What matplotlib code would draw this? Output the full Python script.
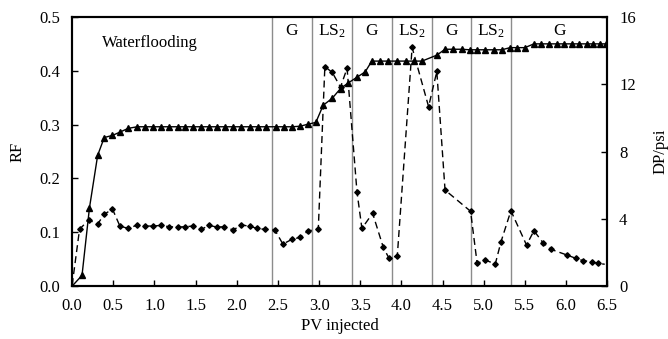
import numpy as np
import matplotlib
matplotlib.use("Agg")
import matplotlib.pyplot as plt

matplotlib.rc('font', family='serif')
matplotlib.rc('font', serif=['Liberation Serif', 'DejaVu Serif'])
matplotlib.rcParams.update({'font.size': 12, 'mathtext.default': 'regular'})

# recovery factor (left axis)
rf_x = [0, 0.12, 0.21, 0.31, 0.39, 0.49, 0.58, 0.68, 0.79, 0.89, 0.98, 1.08,
        1.18, 1.28, 1.37, 1.47, 1.57, 1.66, 1.76, 1.86, 1.96, 2.05, 2.16,
        2.26, 2.36, 2.48, 2.57, 2.67, 2.77, 2.87, 2.96, 3.05, 3.16, 3.26,
        3.35, 3.46, 3.56, 3.64, 3.74, 3.84, 3.95, 4.05, 4.15, 4.25, 4.43,
        4.53, 4.63, 4.73, 4.83, 4.92, 5.02, 5.12, 5.22, 5.32, 5.40, 5.50,
        5.61, 5.70, 5.79, 5.89, 5.98, 6.07, 6.16, 6.25, 6.33, 6.41, 6.49]
rf_y = [0, 0.02, 0.145, 0.243, 0.276, 0.28, 0.286, 0.293, 0.296, 0.296,
        0.296, 0.296, 0.296, 0.296, 0.296, 0.296, 0.296, 0.296, 0.296, 0.296,
        0.296, 0.296, 0.296, 0.296, 0.296, 0.296, 0.296, 0.296, 0.297, 0.301,
        0.304, 0.336, 0.349, 0.367, 0.377, 0.388, 0.398, 0.418, 0.418, 0.418,
        0.418, 0.418, 0.418, 0.418, 0.429, 0.440, 0.440, 0.440, 0.439, 0.439,
        0.439, 0.439, 0.439, 0.443, 0.443, 0.443, 0.450, 0.450, 0.450, 0.450,
        0.450, 0.450, 0.450, 0.450, 0.450, 0.450, 0.450]

# pressure drop (right axis)
dp_x = [0, 0.09, 0.2, 0.31, 0.39, 0.49, 0.58, 0.68, 0.79, 0.88, 0.98, 1.08,
        1.18, 1.28, 1.37, 1.47, 1.57, 1.66, 1.76, 1.85, 1.96, 2.05, 2.16,
        2.25, 2.34, 2.46, 2.56, 2.67, 2.77, 2.87, 2.99, 3.07, 3.16, 3.26,
        3.34, 3.46, 3.52, 3.65, 3.78, 3.85, 3.95, 4.13, 4.33, 4.43, 4.53,
        4.84, 4.92, 5.02, 5.14, 5.21, 5.33, 5.52, 5.61, 5.72, 5.82, 6.01,
        6.12, 6.21, 6.31, 6.39, 6.47]
dp_y = [0.06, 3.38, 3.93, 3.69, 4.27, 4.58, 3.57, 3.43, 3.63, 3.57, 3.57,
        3.61, 3.53, 3.51, 3.53, 3.57, 3.37, 3.61, 3.51, 3.53, 3.33, 3.65,
        3.55, 3.43, 3.37, 3.36, 2.5, 2.78, 2.9, 3.29, 3.37, 13.05, 12.7,
        11.83, 12.95, 5.61, 3.43, 4.33, 2.3, 1.65, 1.8, 14.19, 10.67, 12.76,
        5.71, 4.45, 1.35, 1.55, 1.31, 2.64, 4.48, 2.44, 3.29, 2.58, 2.18,
        1.85, 1.65, 1.51, 1.45, 1.35, 1.3]

# injection stage boundaries and labels
stage_bounds = [2.43, 2.91, 3.40, 3.885, 4.37, 4.85, 5.33]
stage_labels = ["G", "LS$_2$", "G", "LS$_2$", "G", "LS$_2$", "G"]

fig = plt.figure(figsize=(6.68, 3.39), dpi=100)
ax = fig.add_axes([0.108, 0.156, 0.801, 0.794])
ax2 = ax.twinx()

for b in stage_bounds:
    ax.axvline(b, color="#8c8c8c", lw=1.0, zorder=1)

edges = stage_bounds + [6.5]
for i, lab in enumerate(stage_labels):
    ax.text((edges[i] + edges[i + 1]) / 2.0, 0.473, lab, ha="center",
            va="center", fontsize=12.5)
ax.text(0.36, 0.452, "Waterflooding", ha="left", va="center", fontsize=12)

ax.plot(rf_x, rf_y, color="black", lw=1.0, marker="^", markersize=4.5,
        markevery=list(range(1, len(rf_x))), zorder=3)
ax2.plot(dp_x, dp_y, color="black", lw=1.0, ls=(0, (5, 3)), marker="D",
         markersize=2.8, markevery=list(range(1, len(dp_x) - 1)), zorder=3)

ax.set_xlim(0, 6.5)
ax.set_ylim(0, 0.5)
ax2.set_ylim(0, 16)
ax.set_xticks(np.arange(0, 6.51, 0.5))
ax.set_yticks(np.arange(0, 0.51, 0.1))
ax2.set_yticks([0, 4, 8, 12, 16])
ax.xaxis.set_major_formatter(matplotlib.ticker.FormatStrFormatter('%.1f'))
ax.yaxis.set_major_formatter(matplotlib.ticker.FormatStrFormatter('%.1f'))

ax.tick_params(direction="in", length=4, width=1, pad=8.5)
ax2.tick_params(direction="in", length=4, width=1, pad=8.5)
for sp in ax.spines.values():
    sp.set_linewidth(1.5)
for sp in ax2.spines.values():
    sp.set_linewidth(1.5)

ax.set_xlabel("PV injected", labelpad=3)
ax.set_ylabel("RF", labelpad=10)
ax2.set_ylabel("DP/psi", labelpad=12)

fig.savefig("out.png", dpi=100)
plt.close()
